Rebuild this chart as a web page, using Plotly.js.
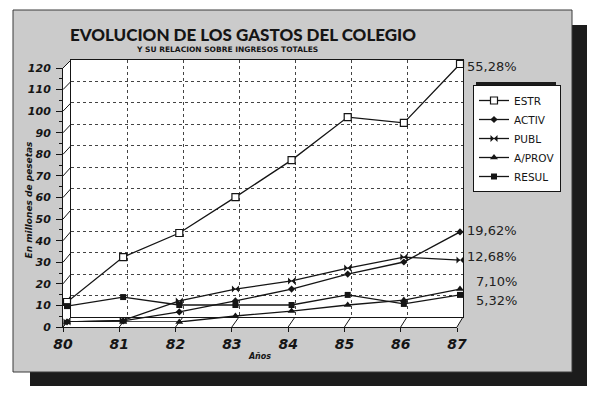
<!DOCTYPE html>
<html><head><meta charset="utf-8">
<script src="https://cdn.plot.ly/plotly-3.0.1.min.js"></script>
<style>html,body{margin:0;padding:0;background:#fff;}#chart{width:600px;height:398px;}</style>
</head><body><div id="chart"></div>
<script>
// ---- data ----
const years = [80, 81, 82, 83, 84, 85, 86, 87];
const yearLabels = ['80', '81', '82', '83', '84', '85', '86', '87'];
const estr  = [9.3, 30.2, 41.4, 58.1, 75.3, 95.3, 92.6, 120];
const activ = [0, 0.5, 4.7, 9.8, 15.3, 22.3, 27.9, 41.9];
const publ  = [0, 0.8, 9.8, 15.3, 19.1, 25.1, 30.2, 28.8];
const aprov = [0, 0, 0, 2.8, 5.1, 7.9, 10.2, 15.3];
const resul = [7.4, 11.6, 7.9, 7.9, 7.9, 12.6, 8.4, 12.6];
const seriesNames = ['ESTR', 'ACTIV', 'PUBL', 'A/PROV', 'RESUL'];
const shareLabels = ['55,28%', '19,62%', '12,68%', '7,10%', '5,32%'];
const yTickVals = [0, 10, 20, 30, 40, 50, 60, 70, 80, 90, 100, 110, 120];

// ---- geometry (pixels) ----
const W = 600, H = 398;
const FRONT = {x0: 63, x1: 457, y0: 327, y1: 68};
const BACK  = {x0: 71, x1: 463, y0: 317, y1: 60};
const MID   = {x0: 67, x1: 460, y0: 322, y1: 64};
const XR = [80, 87], YR = [0, 121];
const YR_BOX = [0, 120];
const px = p => p / W, py = p => 1 - p / H;
const dx = g => [px(g.x0), px(g.x1)];
const dy = g => [py(g.y0), py(g.y1)];
const mapX = (g, v) => g.x0 + (v - XR[0]) / (XR[1] - XR[0]) * (g.x1 - g.x0);
const mapY = (g, v) => g.y0 - (v - YR_BOX[0]) / (YR_BOX[1] - YR_BOX[0]) * (g.y0 - g.y1);

const INK = '#151515';
const FONT = 'DejaVu Sans';

const seriesData = [estr, activ, publ, aprov, resul];
const markers = [
  {symbol: 'square', size: 7, color: '#ffffff', line: {color: INK, width: 1.2}},
  {symbol: 'diamond', size: 5.5, color: INK, line: {width: 0}},
  {symbol: 'bowtie', size: 7, color: INK, line: {width: 0}},
  {symbol: 'triangle-up', size: 7, color: INK, line: {width: 0}},
  {symbol: 'square', size: 6, color: INK, line: {width: 0}}
];

const traces = [
  {x: [], y: [], xaxis: 'x', yaxis: 'y', showlegend: false, hoverinfo: 'skip', type: 'scatter'}
];
seriesData.forEach((s, i) => {
  traces.push({
    type: 'scatter', mode: 'lines+markers', x: years, y: s, name: seriesNames[i],
    xaxis: 'x2', yaxis: 'y2', cliponaxis: false,
    line: {color: INK, width: 1.3}, marker: markers[i]
  });
});
traces.push({x: [], y: [], xaxis: 'x3', yaxis: 'y3', showlegend: false, hoverinfo: 'skip', type: 'scatter'});

// ---- shapes: card, shadow, 3D box ----
const L = (x0, y0, x1, y1, w) => ({type: 'line', xref: 'paper', yref: 'paper', layer: 'below',
  x0: px(x0), y0: py(y0), x1: px(x1), y1: py(y1), line: {color: INK, width: w || 1}});
const shapes = [
  {type: 'rect', xref: 'paper', yref: 'paper', layer: 'below', x0: px(30), x1: px(587), y0: py(386), y1: py(25),
   fillcolor: '#1c1c1c', line: {width: 0}},
  {type: 'rect', xref: 'paper', yref: 'paper', layer: 'below', x0: px(13), x1: px(572), y0: py(372), y1: py(10),
   fillcolor: '#cbcbcb', line: {color: '#3a3a3a', width: 1}},
  {type: 'path', xref: 'paper', yref: 'paper', layer: 'below', fillcolor: '#ffffff', line: {width: 0},
   path: `M ${px(FRONT.x0)},${py(FRONT.y0)} L ${px(FRONT.x0)},${py(FRONT.y1)} L ${px(BACK.x0)},${py(BACK.y1)} L ${px(BACK.x1)},${py(BACK.y1)} L ${px(BACK.x1)},${py(BACK.y0)} L ${px(FRONT.x1)},${py(FRONT.y0)} Z`},
  // legend drop shadow (legend box sits at 473..553 x 85..190)
  {type: 'rect', xref: 'paper', yref: 'paper', layer: 'above', x0: px(476), x1: px(556), y0: py(187), y1: py(82),
   fillcolor: '#1c1c1c', line: {width: 0}}
];
yTickVals.forEach(v => shapes.push(L(FRONT.x0, mapY(FRONT, v), BACK.x0, mapY(BACK, v), 1)));
years.forEach(v => shapes.push(L(mapX(FRONT, v), FRONT.y0, mapX(BACK, v), BACK.y0, 1)));

// ---- share labels at the right of each series (pixel offset of label below its last point) ----
const labelShift = [2, -1, -4, -8, 6];
const annotations = seriesData.map((s, i) => ({
  xref: 'x2', yref: 'y2', x: years[years.length - 1], y: s[s.length - 1],
  text: shareLabels[i], showarrow: false, xanchor: 'right', yanchor: 'middle',
  xshift: 59, yshift: -labelShift[i],
  font: {family: FONT, size: 13, color: '#222'}
}));
annotations.push({
  xref: 'paper', yref: 'paper', x: px(227), y: py(50), xanchor: 'center', yanchor: 'middle',
  text: 'Y SU RELACION SOBRE INGRESOS TOTALES', showarrow: false,
  font: {family: FONT, size: 7.5, weight: 'bold', color: INK}
});
annotations.push({
  xref: 'paper', yref: 'paper', x: px(28.5), y: py(200), xanchor: 'center', yanchor: 'middle',
  text: 'En millones de pesetas', showarrow: false, textangle: -90,
  font: {family: FONT, size: 9, weight: 'bold', style: 'italic', color: INK}
});

const hidden = {showgrid: false, zeroline: false, showline: false, showticklabels: false, ticks: '', automargin: false};
const tickFontY = {family: FONT, size: 11, weight: 'bold', style: 'italic', color: INK};
const tickFontX = {family: FONT, size: 14, weight: 'bold', style: 'italic', color: INK};

const midY = [py(MID.y0), py(MID.y0) + (py(MID.y1) - py(MID.y0)) * (YR[1] / YR_BOX[1])];

const layout = {
  width: W, height: H, margin: {l: 0, r: 0, t: 0, b: 0, pad: 0},
  paper_bgcolor: '#ffffff', plot_bgcolor: 'rgba(0,0,0,0)',
  title: {text: 'EVOLUCION DE LOS GASTOS DEL COLEGIO', x: px(243), xanchor: 'center', y: py(35), yanchor: 'middle',
          font: {family: 'Lato', size: 17, weight: 900, color: INK}},
  showlegend: true,
  legend: {x: px(473), y: py(85), xanchor: 'left', yanchor: 'top', bgcolor: '#ffffff', bordercolor: INK, borderwidth: 1,
           font: {family: FONT, size: 10.5, color: INK}, traceorder: 'normal'},
  // back plane
  xaxis: {domain: dx(BACK), range: XR, anchor: 'y', showgrid: true, gridcolor: '#444', griddash: 'dot', gridwidth: 1,
          tickvals: years, zeroline: false, showline: true, mirror: true, linecolor: INK, linewidth: 1,
          showticklabels: false, ticks: '', automargin: false, fixedrange: true},
  yaxis: {domain: dy(BACK), range: YR_BOX, anchor: 'x', showgrid: true, gridcolor: '#444', griddash: 'dot', gridwidth: 1,
          tickvals: yTickVals, zeroline: false, showline: true, mirror: true, linecolor: INK, linewidth: 1,
          showticklabels: false, ticks: '', automargin: false, fixedrange: true},
  // data plane (mid depth); range slightly taller so the top point's label stays in range
  xaxis2: Object.assign({domain: dx(MID), range: XR, anchor: 'y2'}, hidden),
  yaxis2: Object.assign({domain: midY, range: YR, anchor: 'x2'}, hidden),
  // front axes with labels
  xaxis3: {domain: dx(FRONT), range: XR, anchor: 'y3', showgrid: false, zeroline: false, showline: true,
           linecolor: INK, linewidth: 1, tickvals: years, ticktext: yearLabels, ticks: 'outside', ticklen: 4,
           tickcolor: INK, tickfont: tickFontX, automargin: false,
           title: {text: 'Años', standoff: 2, font: {family: FONT, size: 8, weight: 'bold', style: 'italic', color: INK}}},
  yaxis3: {domain: dy(FRONT), range: YR_BOX, anchor: 'x3', showgrid: false, zeroline: false, showline: true,
           linecolor: INK, linewidth: 1, tickvals: yTickVals, ticks: 'outside', ticklen: 6, tickcolor: INK,
           tickfont: tickFontY, automargin: false, ticklabelstandoff: 3,
           minor: {dtick: 5, ticks: 'outside', ticklen: 3, tickcolor: INK}},
  shapes: shapes,
  annotations: annotations
};

Plotly.newPlot('chart', traces, layout, {staticPlot: true});
</script>
</body></html>
